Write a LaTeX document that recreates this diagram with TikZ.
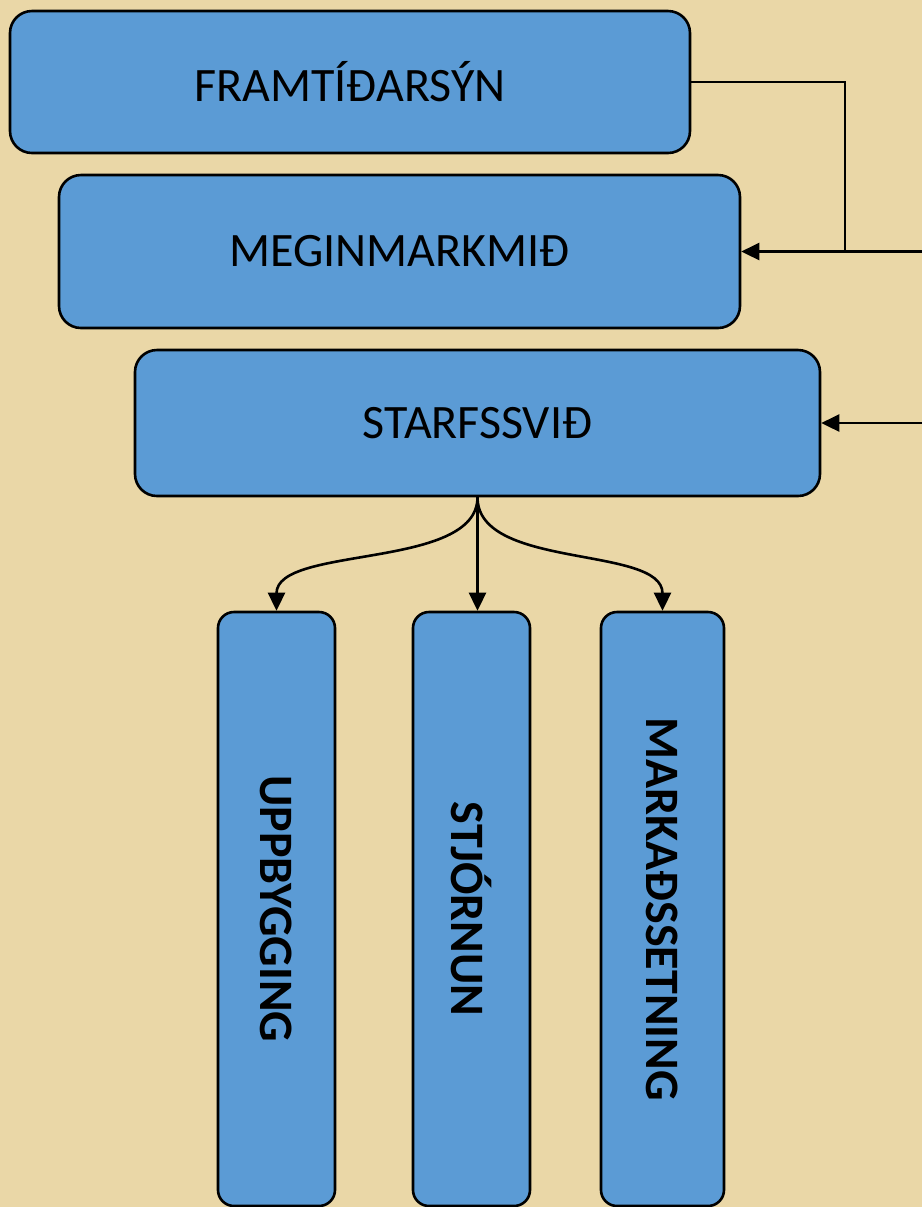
\documentclass[tikz,border=0pt]{standalone}
\usepackage{fontspec}
\setmainfont{Carlito}
\usepackage{graphicx}
\usetikzlibrary{arrows.meta}

\definecolor{parchment}{HTML}{EAD7A7}
\definecolor{boxblue}{HTML}{5B9BD5}

\tikzset{
  block/.style={draw=black, line width=1.3pt, fill=boxblue, rounded corners=11pt,
    inner sep=0pt, font=\fontsize{24}{28}\selectfont},
  column/.style={block, rounded corners=8pt, minimum height=297pt,
    font=\fontsize{24}{28}\selectfont\bfseries},
  link/.style={line width=1.3pt, -{Triangle[length=9pt,width=8.5pt]}}
}

\begin{document}
\begin{tikzpicture}[x=0.5pt,y=-0.5pt]
        % Background
        \fill[parchment] (0,0) rectangle (922,1207);
        \useasboundingbox (0,0) rectangle (922,1207);

        % Define the blocks
        \node[block, minimum width=340pt, minimum height=71pt] (fram) at (350,82) {FRAMTÍÐARSÝN};
        \node[block, minimum width=340.5pt, minimum height=76.5pt] (megin) at (399.5,251.5) {MEGINMARKMIÐ};
        \node[block, minimum width=342.5pt, minimum height=73pt] (starf) at (477.5,423) {STARFSSVIÐ};

        \node[column, minimum width=58.5pt] (upp) at (276.5,909) {\rotatebox{-90}{UPPBYGGING}};
        \node[column, minimum width=58.5pt] (stjo) at (471.5,909) {\rotatebox{-90}{STJÓRNUN}};
        \node[column, minimum width=61.5pt] (mark) at (662.5,909) {\rotatebox{-90}{MARKAÐSSETNING}};

        % Free ends on the right
        \coordinate (inA) at (922,251.5);
        \coordinate (inB) at (922,423);
        \coordinate (jn) at (845,251.5);

        % Draw arrows
        \draw[line width=1.3pt] (fram.east) -| (jn);
        \draw[link] (inA) -- (megin.east);
        \draw[link] (inB) -- (starf.east);

        \draw[link] (starf.south) .. controls (477.5,570) and (276.5,545) .. (upp.north);
        \draw[link] (starf.south) -- (starf.south |- stjo.north);
        \draw[link] (starf.south) .. controls (477.5,570) and (662.5,545) .. (mark.north);
    \end{tikzpicture}
\end{document}
